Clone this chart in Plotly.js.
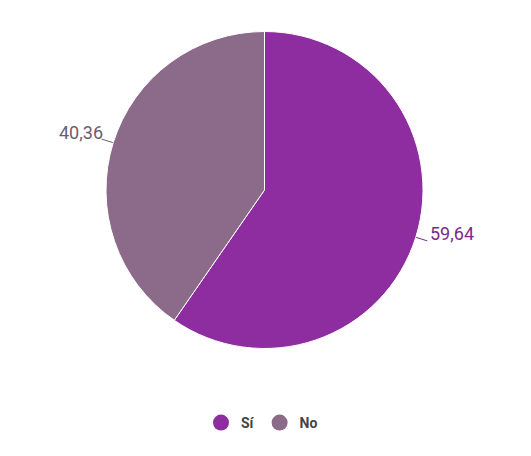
<!DOCTYPE html>
<html>
<head>
<meta charset="utf-8">
<script src="https://cdn.plot.ly/plotly-3.0.1.min.js"></script>
<style>html,body{margin:0;padding:0;background:#fff;}#chart{width:531px;height:456px;}</style>
</head>
<body>
<div id="chart"></div>
<script>
var categories = ['Sí', 'No'];
var values = [59.64, 40.36];
var colors = ['#8e2d9f', '#8c6a89'];
var labelColors = ['#7b2a8a', '#6f5b70'];

var W = 531, H = 456;
// pie box in page pixels
var box = {x0: 106, x1: 423, y0: 31, y1: 349};
var cx = (box.x0 + box.x1) / 2, cy = (box.y0 + box.y1) / 2;
var R = Math.min(box.x1 - box.x0, box.y1 - box.y0) / 2;

var pie = {
  type: 'pie',
  labels: categories,
  values: values,
  sort: false,
  direction: 'clockwise',
  rotation: 0,
  marker: {colors: colors, line: {color: '#ffffff', width: 1}},
  textinfo: 'none',
  hoverinfo: 'label+value',
  showlegend: false,
  domain: {x: [box.x0 / W, box.x1 / W], y: [1 - box.y1 / H, 1 - box.y0 / H]}
};

var total = values.reduce(function (a, b) { return a + b; }, 0);
var cum = 0;
var traces = [pie];
var annotations = [];
values.forEach(function (v, i) {
  var mid = (cum + v / 2) / total * 2 * Math.PI;
  cum += v;
  var sx = Math.sin(mid), sy = -Math.cos(mid);
  var hx = cx + R * sx, hy = cy + R * sy;
  var tx = cx + (R + 12) * sx, ty = cy + (R + 12) * sy;
  traces.push({
    type: 'scatter', mode: 'lines', x: [hx, tx], y: [hy, ty],
    line: {color: labelColors[i], width: 1}, hoverinfo: 'skip', showlegend: false
  });
  var right = sx >= 0;
  annotations.push({
    xref: 'x', yref: 'y', x: tx, y: ty, showarrow: false,
    text: v.toFixed(2).replace('.', ','),
    xanchor: right ? 'left' : 'right', yanchor: 'middle',
    xshift: right ? 1 : 3, yshift: 7,
    font: {family: 'Roboto, sans-serif', size: 18, color: labelColors[i]}
  });
});

categories.forEach(function (c, i) {
  traces.push({
    type: 'scatter', mode: 'markers', x: [null], y: [null], name: c,
    marker: {symbol: 'circle', size: 16, color: colors[i]},
    showlegend: true
  });
});

var layout = {
  width: W, height: H,
  margin: {l: 0, r: 0, t: 0, b: 0},
  paper_bgcolor: '#ffffff', plot_bgcolor: 'rgba(0,0,0,0)',
  separators: ',.',
  font: {family: 'Roboto, sans-serif', color: '#444'},
  xaxis: {visible: false, fixedrange: true, range: [0, W]},
  yaxis: {visible: false, fixedrange: true, range: [H, 0]},
  annotations: annotations,
  showlegend: true,
  legend: {
    orientation: 'h', x: 262 / W, xanchor: 'center', y: 1 - 423 / H, yanchor: 'middle',
    font: {family: 'Roboto, sans-serif', size: 14, color: '#444', weight: 'bold'},
    traceorder: 'normal'
  }
};

Plotly.newPlot('chart', traces, layout, {displayModeBar: false, staticPlot: true});
</script>
</body>
</html>
